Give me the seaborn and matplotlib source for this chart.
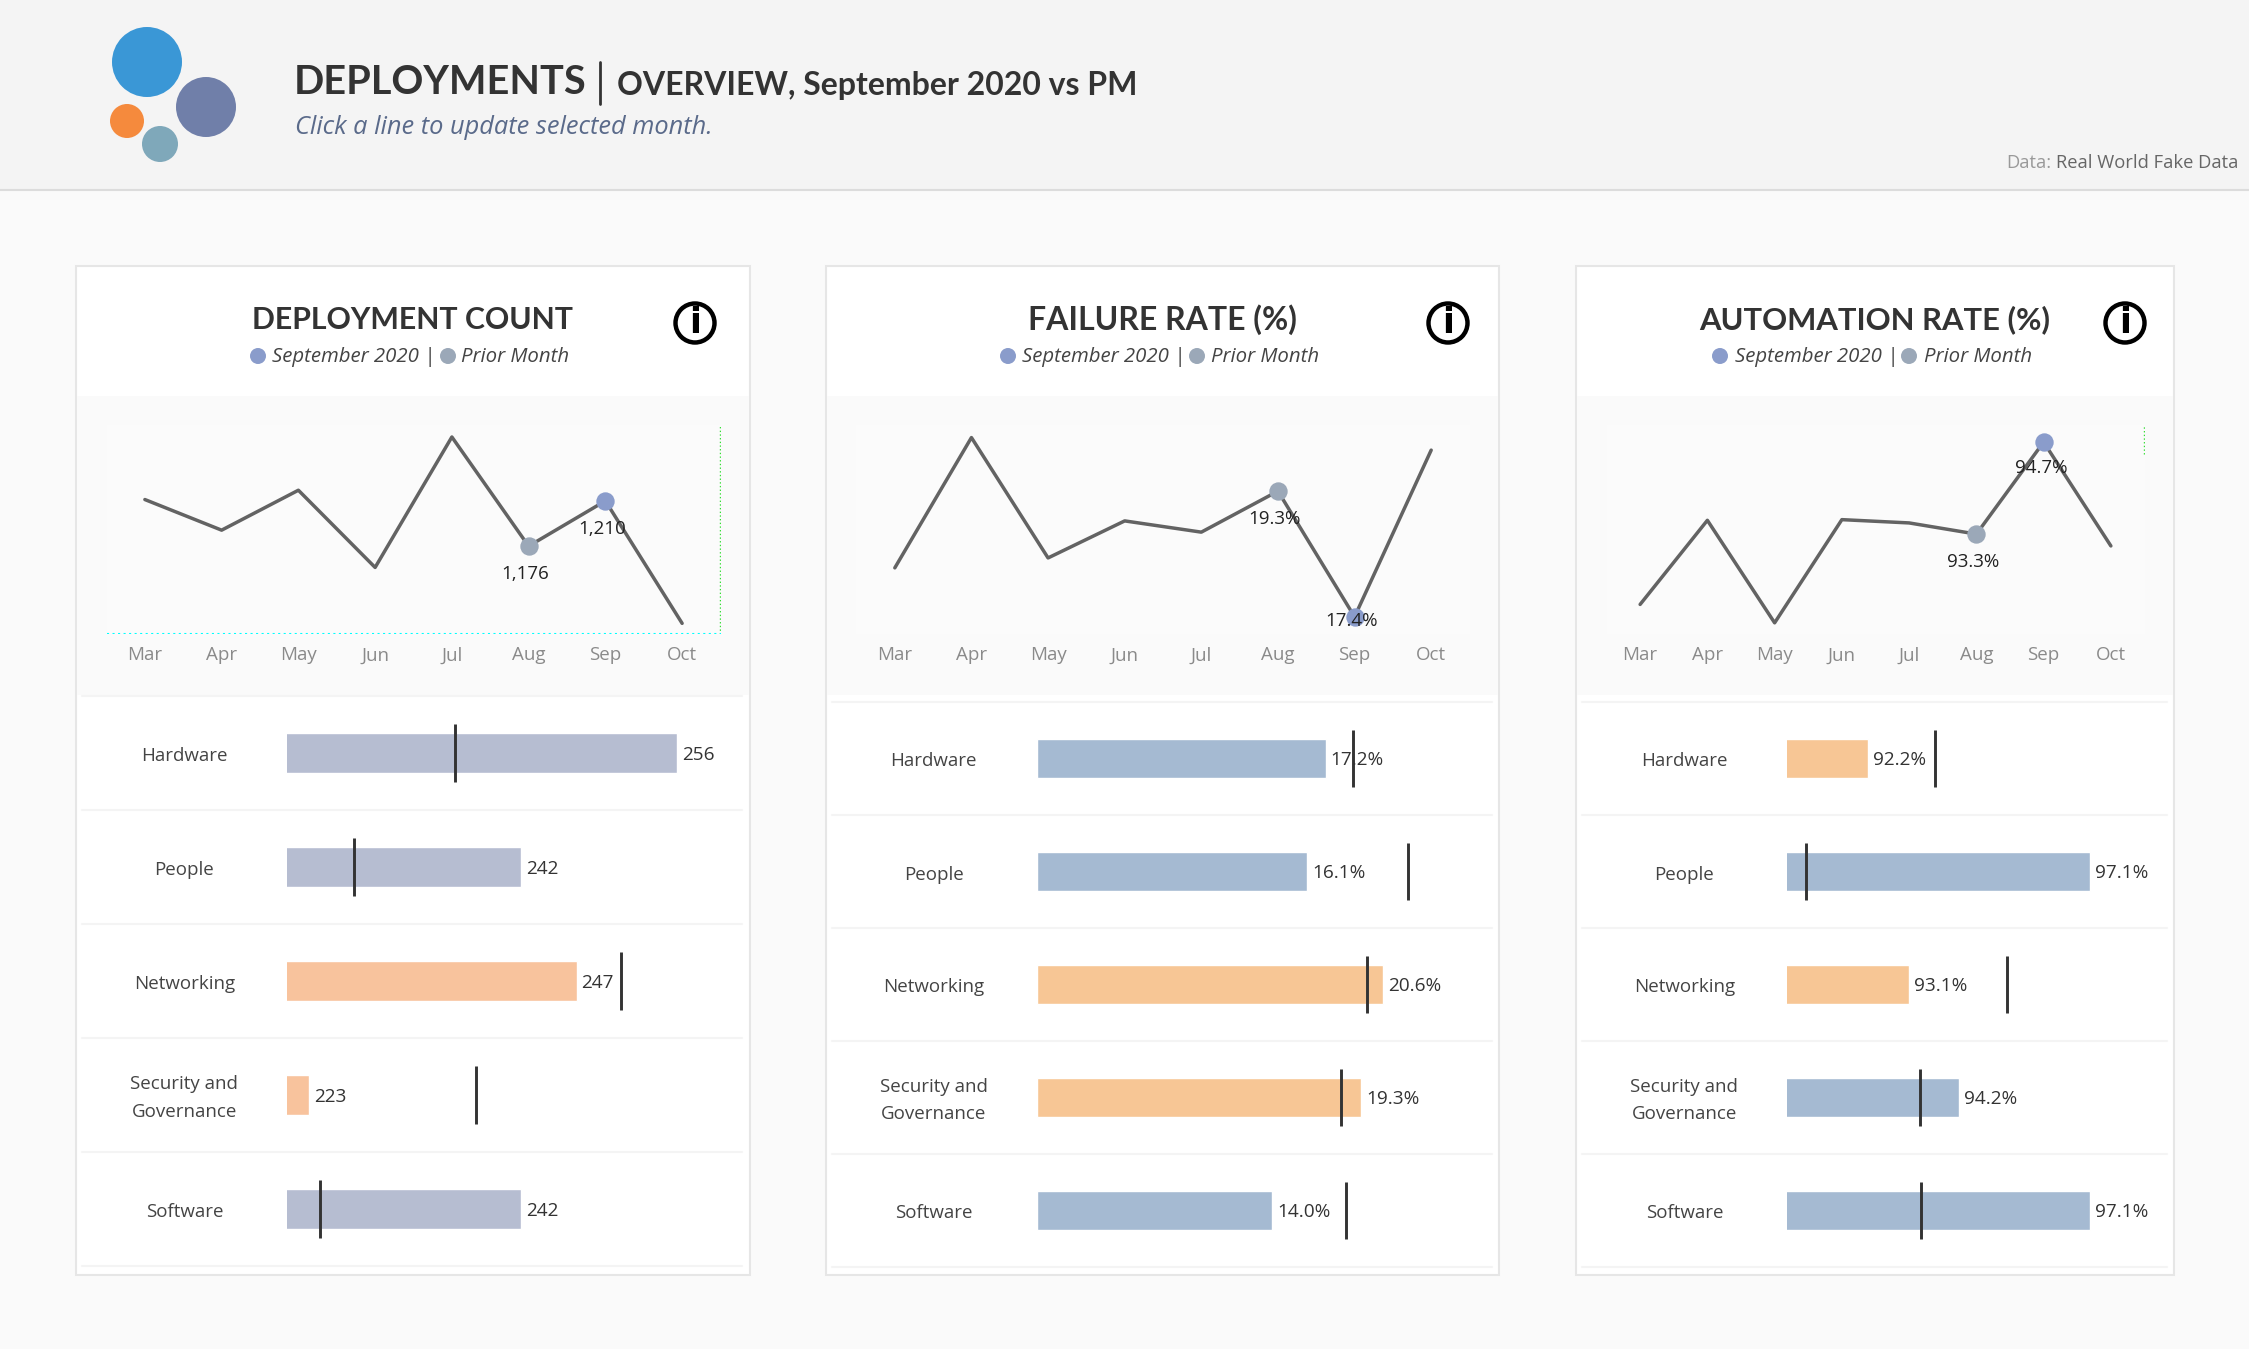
import matplotlib
matplotlib.use('Agg')
import matplotlib.pyplot as plt
from matplotlib.patches import Circle, Rectangle
from matplotlib.transforms import ScaledTranslation
import seaborn as sns

sns.set_theme(style='white')
plt.rcParams['font.family'] = ['Open Sans', 'DejaVu Sans']
plt.rcParams['ytick.alignment'] = 'center'

W, H = 2249, 1349

months = ['Mar', 'Apr', 'May', 'Jun', 'Jul', 'Aug', 'Sep', 'Oct']
categories = ['Hardware', 'People', 'Networking', 'Security and\nGovernance', 'Software']

count_trend = [1211, 1188, 1218, 1160, 1258, 1176, 1210, 1118]
failure_trend = [18.14, 20.11, 18.29, 18.85, 18.68, 19.3, 17.4, 19.92]
automation_trend = [92.23, 93.51, 91.95, 93.52, 93.47, 93.3, 94.7, 93.12]

count_now = [256, 242, 247, 223, 242]
count_prior = [236.1, 227, 251, 238, 224]
failure_now = [17.2, 16.1, 20.6, 19.3, 14.0]
failure_prior = [18.8, 22.1, 19.65, 18.1, 18.4]
automation_now = [92.2, 97.1, 93.1, 94.2, 97.1]
automation_prior = [93.68, 90.84, 95.26, 93.34, 93.36]

BLUE1, ORANGE1 = '#B6BDD1', '#F8C39D'
BLUE2, ORANGE2 = '#A5BAD2', '#F7C695'
count_colors = [BLUE1, BLUE1, ORANGE1, ORANGE1, BLUE1]
failure_colors = [BLUE2, BLUE2, ORANGE2, ORANGE2, BLUE2]
automation_colors = [ORANGE2, BLUE2, ORANGE2, BLUE2, BLUE2]

panels = [
    dict(title='DEPLOYMENT COUNT', box=(76, 750), center=413, info=695, legend=(258, 272, 448, 461),
         seps=(82, 742), line_x=(106.5, 720.5), ylim=(1110, 1267), trend=count_trend,
         fmt='{:,.0f}', bar_x=(287, 745), xlim=(221, 262.1), rows=(696, 1266),
         now=count_now, prior=count_prior, colors=count_colors, vfmt='{:.0f}',
         lab_off=[(-3, 28), (-3, 28)], title_size=21.8),
    dict(title='FAILURE RATE (%)', box=(826, 1499), center=1162, info=1448, legend=(1008, 1022, 1197, 1211),
         seps=(832, 1492), line_x=(856.5, 1469.5), ylim=(17.14, 20.30), trend=failure_trend,
         fmt='{:.1f}%', bar_x=(1036.5, 1490), xlim=(0, 26.96), rows=(702, 1267),
         now=failure_now, prior=failure_prior, colors=failure_colors, vfmt='{:.1f}%',
         lab_off=[(-3, 28), (-3, 4)], title_size=23),
    dict(title='AUTOMATION RATE (%)', box=(1576, 2174), center=1875, info=2125, legend=(1720, 1735, 1909, 1924),
         seps=(1582, 2167), line_x=(1606.5, 2144.5), ylim=(91.78, 94.96), trend=automation_trend,
         fmt='{:.1f}%', bar_x=(1787, 2160), xlim=(90.41, 98.64), rows=(702, 1267),
         now=automation_now, prior=automation_prior, colors=automation_colors, vfmt='{:.1f}%',
         lab_off=[(-3, 28), (-2, 26)], title_size=22.3),
]

fig = plt.figure(figsize=(W / 100, H / 100), dpi=100, facecolor='#FAFAFA')


def px_axes(x0, x1, y0, y1):
    return fig.add_axes([x0 / W, 1 - y1 / H, (x1 - x0) / W, (y1 - y0) / H])


# page furniture, in pixels
bg = fig.add_axes([0, 0, 1, 1])
bg.set_xlim(0, W)
bg.set_ylim(H, 0)
bg.axis('off')

bg.add_patch(Rectangle((0, 0), W, 189, color='#F4F4F4', lw=0))
bg.plot([0, W], [190, 190], color='#DCDCDC', lw=1.5)

for x, y, r, c in [(147, 62, 35, '#3A97D6'), (206, 107, 30, '#707FA9'),
                   (127, 121, 17, '#F58A3D'), (160, 144, 18, '#7FA8BA')]:
    bg.add_patch(Circle((x, y), r, color=c, lw=0))

bg.text(294, 82, 'DEPLOYMENTS', fontsize=28.5, fontweight='bold', color='#333333', va='center', family='Lato')
bg.plot([600, 600], [62, 104], color='#333333', lw=2)
bg.text(617, 85, 'OVERVIEW, September 2020 vs PM', fontsize=23, fontweight='bold', color='#333333', va='center',
        family='Lato')
bg.text(295, 127, 'Click a line to update selected month.', fontsize=18.3, style='italic', color='#5A6A8A',
        va='center')
bg.text(2056, 163, 'Real World Fake Data', fontsize=13.2, color='#666666', va='center', ha='left')
bg.text(2006, 163, 'Data:', fontsize=13.2, color='#999999', va='center', ha='left')

for p in panels:
    x0, x1 = p['box']
    bg.add_patch(Rectangle((x0, 266), x1 - x0, 1009, facecolor='white', edgecolor='#E6E6E6', lw=1.5))
    bg.add_patch(Rectangle((x0 + 1, 396), x1 - x0 - 2, 299, color='#FAFAFA', lw=0))
    for i in range(6):
        y = p['rows'][0] + i * (p['rows'][1] - p['rows'][0]) / 5
        bg.plot(p['seps'], [y, y], color='#F4F4F4', lw=1.5)
    bg.text(p['center'], 320, p['title'], fontsize=p['title_size'], fontweight='bold', color='#333333',
            ha='center', va='center', family='Lato')
    c1, t1, c2, t2 = p['legend']
    bg.add_patch(Circle((c1, 356), 8, color='#8A9CCB', lw=0))
    bg.add_patch(Circle((c2, 356), 8, color='#9BA8B8', lw=0))
    bg.text(t1, 357, 'September 2020 |', fontsize=14.7, style='italic', color='#444444', va='center')
    bg.text(t2, 357, 'Prior Month', fontsize=14.7, style='italic', color='#444444', va='center')
    bg.add_patch(Circle((p['info'], 323), 19.5, facecolor='white', edgecolor='black', lw=3.2))
    bg.text(p['info'], 323, 'i', fontsize=25, color='black', ha='center', va='center', family='DejaVu Sans',
            fontweight='bold')

for n, p in enumerate(panels):
    # trend line
    ax = px_axes(p['line_x'][0], p['line_x'][1], 425, 634)
    ax.set_facecolor('#FBFBFB')
    sns.lineplot(x=months, y=p['trend'], color='#636363', lw=2.5, ax=ax)
    sns.scatterplot(x=[months[5]], y=[p['trend'][5]], color='#9BA8B8', s=175, lw=0, zorder=3, ax=ax)
    sns.scatterplot(x=[months[6]], y=[p['trend'][6]], color='#8A9CCB', s=175, lw=0, zorder=3, ax=ax)
    ax.set_xlim(-0.5, 7.5)
    ax.set_ylim(*p['ylim'])
    ax.set_yticks([])
    ax.tick_params(axis='x', length=0, pad=9, labelsize=13.5, labelcolor='#8A8A8A')
    for spine in ax.spines.values():
        spine.set_visible(False)
    for idx, off in zip([5, 6], p['lab_off']):
        ax.annotate(p['fmt'].format(p['trend'][idx]), (idx, p['trend'][idx]),
                    xytext=(off[0] * 0.72, -off[1] * 0.72), textcoords='offset points',
                    ha='center', va='center', fontsize=13.5, color='#222222', zorder=4)
    # stray dotted guides seen in the dashboard
    if n == 0:
        ax.axvline(7.49, color='#33DD33', lw=1, ls=':')
        ax.axhline(p['ylim'][0], color='#00FFFF', lw=1.5, ls=':')
    if n == 2:
        ax.axvline(7.49, ymin=0.86, ymax=1, color='#33DD33', lw=1, ls=':')

    # bars for the selected month, ticks for the prior month
    ax = px_axes(p['bar_x'][0], p['bar_x'][1], p['rows'][0], p['rows'][1])
    ax.patch.set_alpha(0)
    sns.barplot(x=p['now'], y=categories, hue=categories, palette=p['colors'], legend=False,
                orient='h', width=0.345, saturation=1, ax=ax)
    ax.vlines(p['prior'], [i - 0.255 for i in range(5)], [i + 0.255 for i in range(5)],
              color='#333333', lw=2.1, zorder=4)
    for i, v in enumerate(p['now']):
        ax.annotate(p['vfmt'].format(v), (v, i), xytext=(3.5, -1.2), textcoords='offset points',
                    ha='left', va='center', fontsize=13.7, color='#333333', zorder=3)
    ax.set_xlim(*p['xlim'])
    ax.set_ylim(4.5, -0.5)
    ax.set_xticks([])
    ax.tick_params(axis='y', length=0, pad=73.9, labelsize=13.5, labelcolor='#444444')
    nudge = ScaledTranslation(0, -3 / 100, fig.dpi_scale_trans)
    for lab in ax.get_yticklabels():
        lab.set_ha('center')
        lab.set_linespacing(1.7)
        lab.set_transform(lab.get_transform() + nudge)
    for spine in ax.spines.values():
        spine.set_visible(False)

fig.savefig('out.png', dpi=100, facecolor=fig.get_facecolor())
